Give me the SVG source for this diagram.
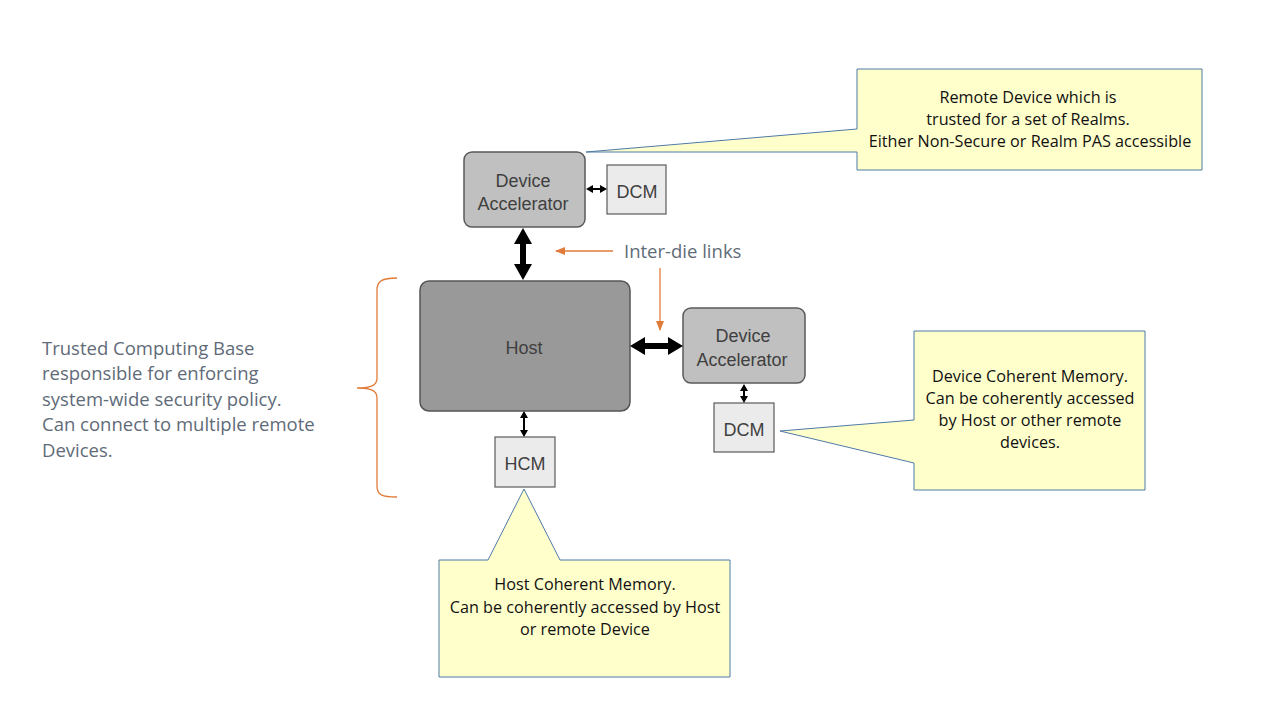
<svg xmlns="http://www.w3.org/2000/svg" width="1280" height="720" viewBox="0 0 1280 720">
<style>
.acc{fill:#c0c0c0;stroke:#5a5a5a;stroke-width:1.5}
.mem{fill:#ebebeb;stroke:#5a5a5a;stroke-width:1.2}
.host{fill:#999999;stroke:#555;stroke-width:1.5}
.nt{font-family:"Liberation Sans",Arial,sans-serif;font-size:18px;fill:#3f3f3f;text-anchor:middle}
.call{fill:#ffffcc;stroke:#4f7aa8;stroke-width:1}
.ct{font-family:"Open Sans","Liberation Sans",sans-serif;font-size:16.2px;fill:#111;text-anchor:middle}
.gt{font-family:"Open Sans","Liberation Sans",sans-serif;font-size:18.5px;fill:#5f6b78}
.or{stroke:#e07b39;stroke-width:1.3;fill:none}
.blk{fill:#000}
</style>
<defs>
<marker id="oa" markerWidth="10" markerHeight="8" refX="9" refY="4" orient="auto" markerUnits="userSpaceOnUse">
<path d="M0,0 L10,4 L0,8 Z" fill="#e07b39"/>
</marker>
</defs>

<g id="callout-remote">
<path class="call" d="M857,69 H1202 V170 H857 V152 L586,152 L857,129 Z"/>
<text class="ct" x="1028" y="103">Remote Device which is</text>
<text class="ct" x="1028" y="125">trusted for a set of Realms.</text>
<text class="ct" x="1030" y="147">Either Non-Secure or Realm PAS accessible</text>
</g>

<g id="callout-dcm">
<path class="call" d="M914,331 H1145 V490 H914 V463 L780,431 L914,420 Z"/>
<text class="ct" x="1030" y="382">Device Coherent Memory.</text>
<text class="ct" x="1030" y="404">Can be coherently accessed</text>
<text class="ct" x="1030" y="426">by Host or other remote</text>
<text class="ct" x="1030" y="448">devices.</text>
</g>

<g id="callout-hcm">
<path class="call" d="M439,560 H488 L524,489 L560,560 H730 V677 H439 Z"/>
<text class="ct" x="585" y="590">Host Coherent Memory.</text>
<text class="ct" x="585" y="613">Can be coherently accessed by Host</text>
<text class="ct" x="585" y="635">or remote Device</text>
</g>

<g id="device-accel-top">
<rect class="acc" x="464" y="152" width="121" height="75" rx="8"/>
<text class="nt" x="523" y="187">Device</text>
<text class="nt" x="523" y="210">Accelerator</text>
</g>

<g id="dcm-top">
<rect class="mem" x="607" y="165" width="59" height="49"/>
<text class="nt" x="637" y="198">DCM</text>
</g>

<g id="host">
<rect class="host" x="420" y="281" width="210" height="130" rx="9"/>
<text class="nt" x="524" y="354">Host</text>
</g>

<g id="device-accel-right">
<rect class="acc" x="683" y="308" width="122" height="75" rx="8"/>
<text class="nt" x="743" y="342">Device</text>
<text class="nt" x="742" y="366">Accelerator</text>
</g>

<g id="dcm-right">
<rect class="mem" x="714" y="403" width="60" height="49"/>
<text class="nt" x="744" y="436">DCM</text>
</g>

<g id="hcm">
<rect class="mem" x="495" y="437" width="60" height="50"/>
<text class="nt" x="525" y="470">HCM</text>
</g>

<g id="connectors">
<polygon class="blk" points="523,228 532,244 526,244 526,264 532,264 523,280 514,264 520,264 520,244 514,244"/>
<polygon class="blk" points="630,346 645,337 645,343 668,343 668,337 683,346 668,355 668,349 645,349 645,355"/>
<polygon class="blk" points="586,189 593,185 593,188 600,188 600,185 607,189 600,193 600,190 593,190 593,193"/>
<polygon class="blk" points="744,384 748,391 745,391 745,396 748,396 744,403 740,396 743,396 743,391 740,391"/>
<polygon class="blk" points="524,411 528,418 525,418 525,430 528,430 524,437 520,430 523,430 523,418 520,418"/>
<line class="or" x1="613" y1="251" x2="556" y2="251" marker-end="url(#oa)"/>
<line class="or" x1="660" y1="268" x2="660" y2="330" marker-end="url(#oa)"/>
</g>

<g id="inter-die-label">
<text class="gt" x="624" y="258">Inter-die links</text>
</g>

<g id="tcb-brace">
<path class="or" d="M397,278 C382,278 377,281 377,290 V378 C377,385 372,388 357,388 C372,388 377,391 377,398 V486 C377,495 382,497 397,497"/>
</g>

<g id="tcb-label">
<text class="gt" x="42" y="355">Trusted Computing Base</text>
<text class="gt" x="42" y="380">responsible  for enforcing</text>
<text class="gt" x="42" y="406">system-wide security  policy.</text>
<text class="gt" x="42" y="431">Can connect to multiple remote</text>
<text class="gt" x="42" y="457">Devices.</text>
</g>
</svg>
